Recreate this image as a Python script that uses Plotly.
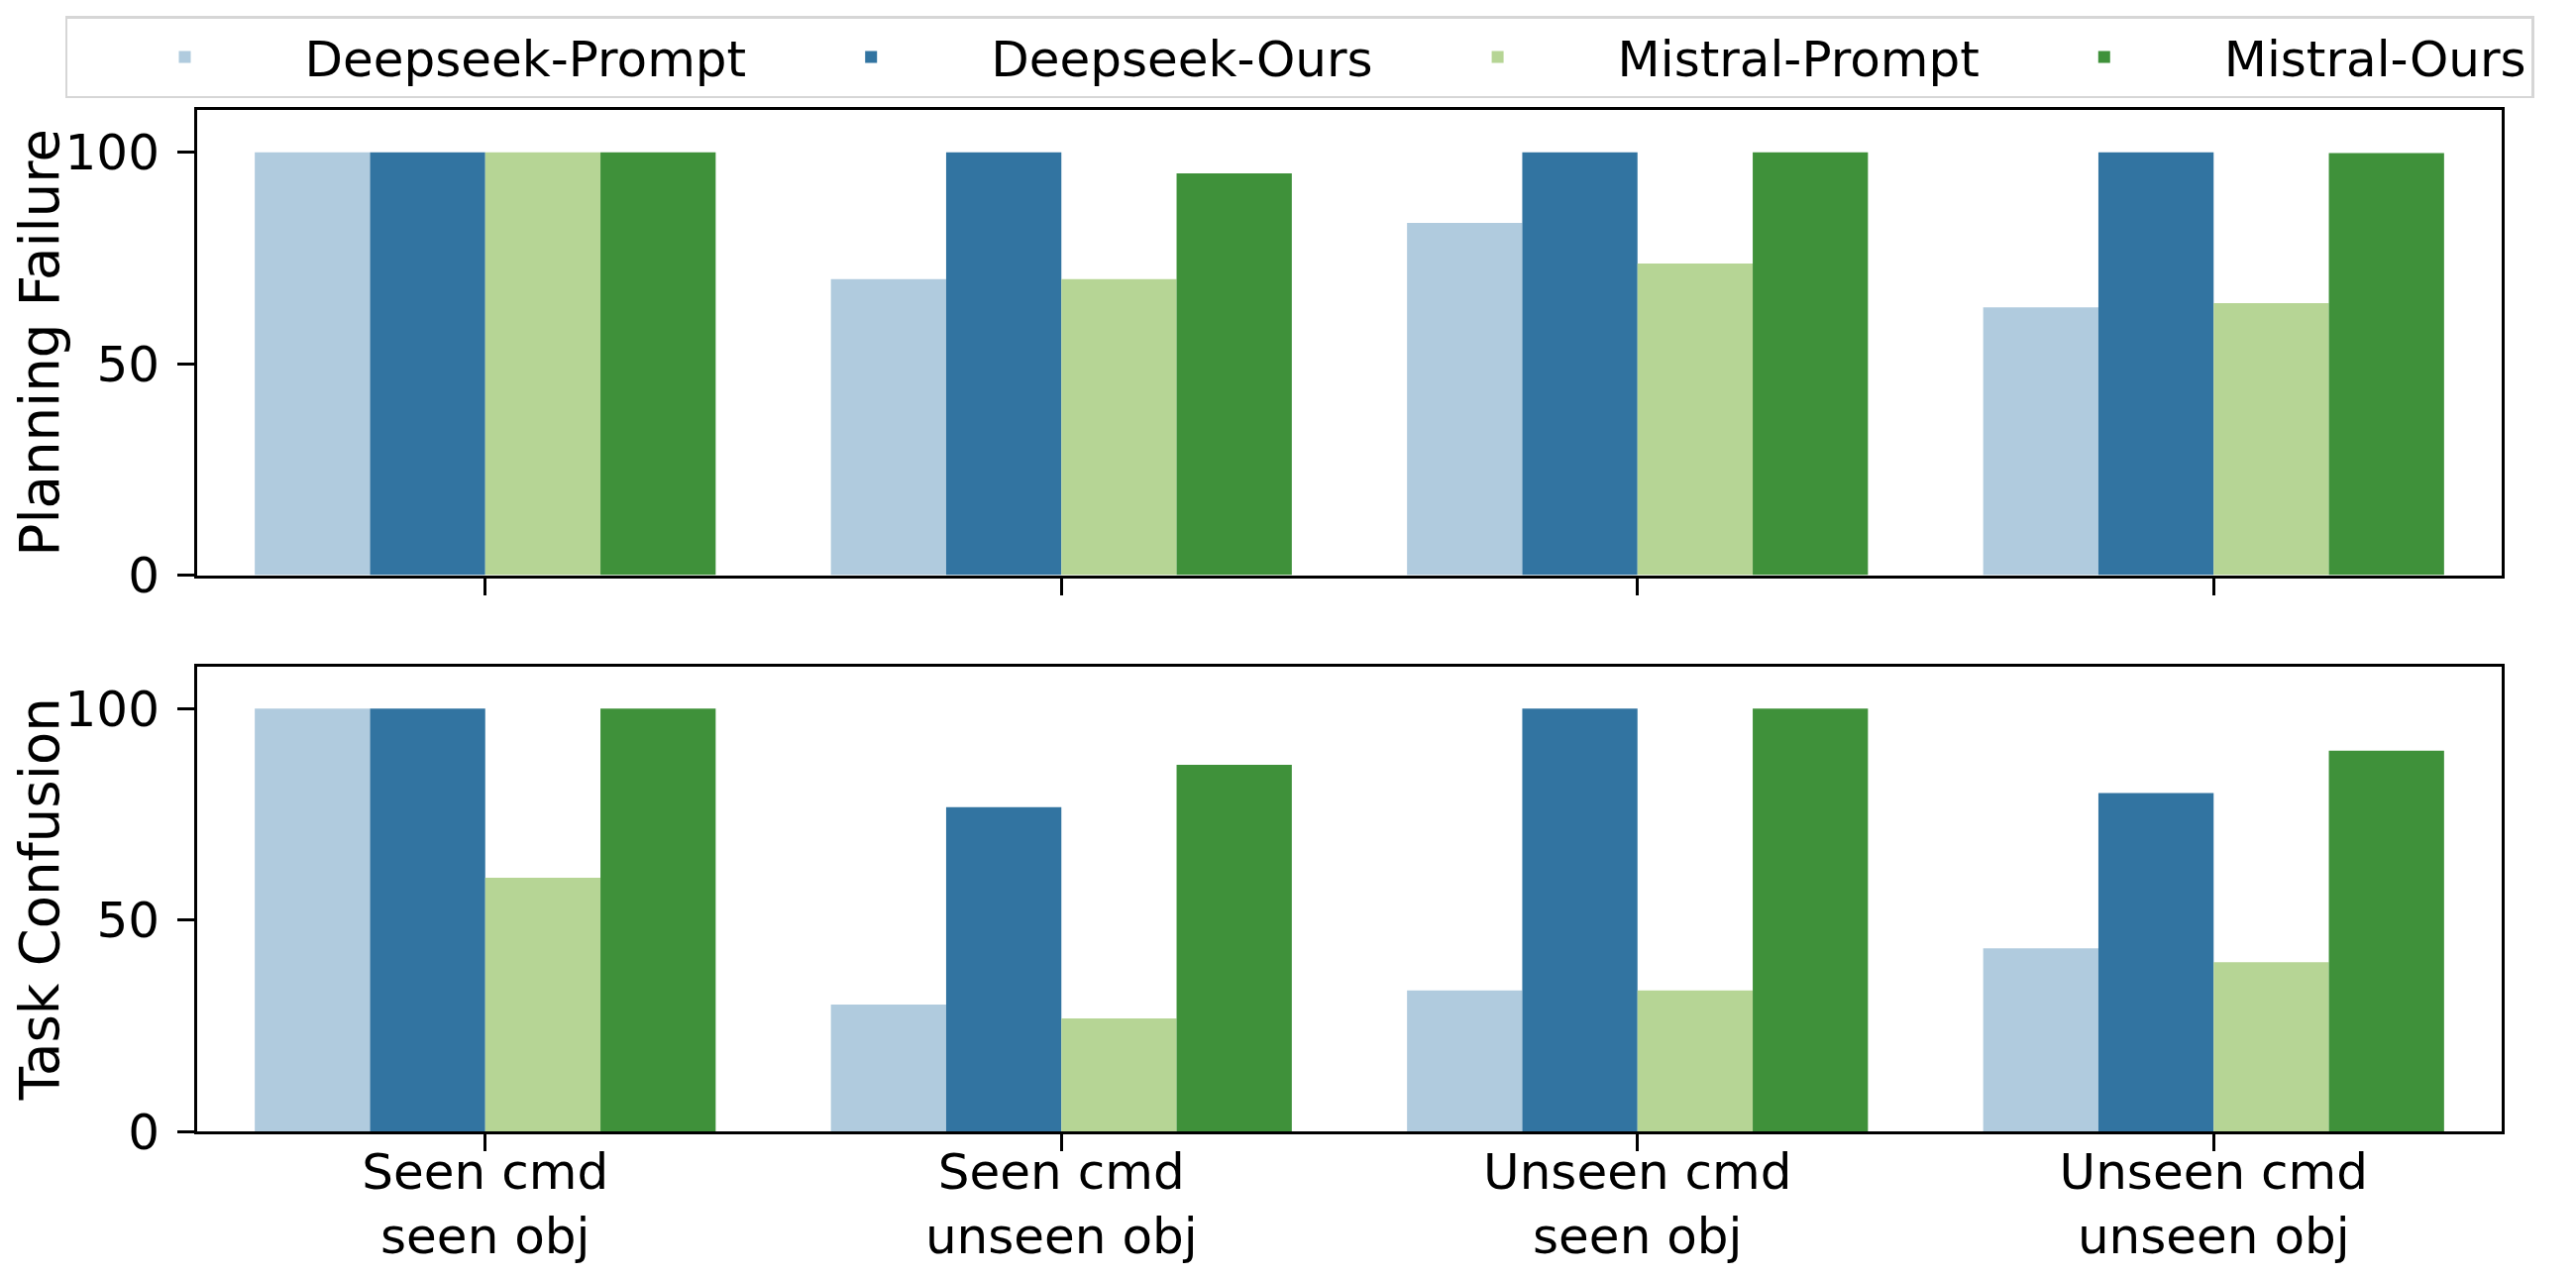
import plotly.graph_objects as go
from plotly.subplots import make_subplots

# ---- data ----
categories = ["Seen cmd<br>seen obj", "Seen cmd<br>unseen obj",
              "Unseen cmd<br>seen obj", "Unseen cmd<br>unseen obj"]
series_names = ["Deepseek-Prompt", "Deepseek-Ours", "Mistral-Prompt", "Mistral-Ours"]

planning_deepseek_prompt = [100, 70, 83.3, 63.3]
planning_deepseek_ours = [100, 100, 100, 100]
planning_mistral_prompt = [100, 70, 73.7, 64.3]
planning_mistral_ours = [100, 95, 100, 99.8]

task_deepseek_prompt = [100, 30, 33.3, 43.3]
task_deepseek_ours = [100, 76.7, 100, 80]
task_mistral_prompt = [60, 26.7, 33.3, 40]
task_mistral_ours = [100, 86.7, 100, 90]

y_tick_values = [0, 50, 100]
y_titles = ["Planning Failure", "Task Confusion"]

# ---- style ----
colors = ["#b0cbde", "#3274a1", "#b6d595", "#3f913a"]
FONT = "DejaVu Sans"
# the page body has an 8px margin, so the figure is sized to fit inside it
W, H = 2584, 1272
ML, MT = 191, 103
plot_w, plot_h = 2326, 1031
MR = W - ML - plot_w
MB = H - MT - plot_h

fig = make_subplots(rows=2, cols=1, shared_xaxes=True,
                    vertical_spacing=92 / plot_h)

planning = [planning_deepseek_prompt, planning_deepseek_ours,
            planning_mistral_prompt, planning_mistral_ours]
task = [task_deepseek_prompt, task_deepseek_ours,
        task_mistral_prompt, task_mistral_ours]

for i, name in enumerate(series_names):
    fig.add_trace(go.Bar(x=categories, y=planning[i], name=name,
                         marker=dict(color=colors[i], line=dict(width=0)),
                         legendgroup=name, showlegend=True), row=1, col=1)
    fig.add_trace(go.Bar(x=categories, y=task[i], name=name,
                         marker=dict(color=colors[i], line=dict(width=0)),
                         legendgroup=name, showlegend=False), row=2, col=1)

axis_common = dict(showline=True, mirror=True, linecolor="black", linewidth=3,
                   ticks="outside", ticklen=17, tickwidth=2.5, tickcolor="black",
                   showgrid=False, zeroline=False, automargin=False,
                   tickfont=dict(family=FONT, size=50, color="black"))

for r in (1, 2):
    fig.update_xaxes(range=[-0.5, 3.5], ticklabelstandoff=-22, row=r, col=1, **axis_common)
    fig.update_yaxes(range=[0, 110], tickvals=y_tick_values, ticklabelstandoff=8,
                     row=r, col=1,
                     title=dict(text=y_titles[r - 1], standoff=22,
                                font=dict(family=FONT, size=54.5, color="black")),
                     **axis_common)
fig.update_xaxes(showticklabels=False, row=1, col=1)

fig.update_layout(
    width=W, height=H,
    margin=dict(l=ML, r=MR, t=MT, b=MB, autoexpand=False),
    paper_bgcolor="white", plot_bgcolor="white",
    barmode="group", bargap=0.2, bargroupgap=0,
    font=dict(family=FONT, size=50, color="black"),
    legend=dict(orientation="h", x=(57.5 - ML) / plot_w, xanchor="left",
                y=1 + 95 / plot_h, yanchor="top",
                bordercolor="#d6d6d6", borderwidth=2.5, bgcolor="white",
                itemwidth=232,
                font=dict(family=FONT, size=50, color="black")),
)

fig.write_html("out.html")
